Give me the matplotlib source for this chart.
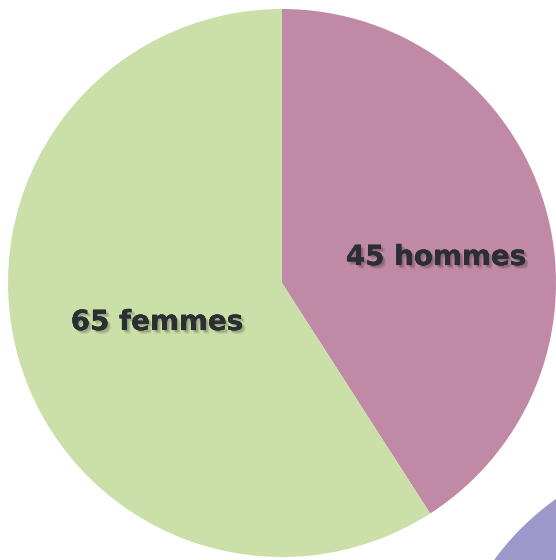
import matplotlib
matplotlib.use("Agg")
import matplotlib.pyplot as plt
import matplotlib.patheffects as pe
from matplotlib.patches import Circle

# data
labels = ["45 hommes", "65 femmes"]
values = [45, 65]
colors = ["#C089A5", "#CAE0A8"]

W, H = 556, 560
fig = plt.figure(figsize=(W / 100, H / 100), dpi=100)
ax = fig.add_axes([0, 0, 1, 1])

# piece of the next circle peeking in at the bottom right
ax.add_patch(Circle((715, 560 - 722), 274, color="#9E98CA", lw=0))

wedges, texts = ax.pie(values, colors=colors, startangle=90, counterclock=False,
                       center=(282, 560 - 283), radius=274,
                       wedgeprops=dict(linewidth=0), frame=True)
ax.set_xlim(0, W)
ax.set_ylim(0, H)
ax.set_aspect("equal")
ax.axis("off")

# soft-ish drop shadow: a few offset copies with low alpha
shadow = [pe.withSimplePatchShadow(offset=(o, -o), shadow_rgbFace="black", alpha=0.12)
          for o in (0.5, 1.5, 2.5)]
pos = [(436, 560 - 257), (157, 560 - 322)]
for lab, (x, y) in zip(labels, pos):
    ax.text(x, y, lab, ha="center", va="center", fontsize=20, fontweight="bold",
            family="DejaVu Sans", color="#2B2F33", path_effects=shadow)

fig.savefig("out.png", dpi=100)
